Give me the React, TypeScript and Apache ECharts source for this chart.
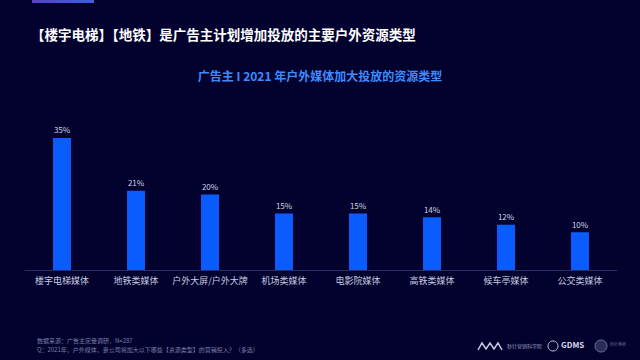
import React, { useEffect, useRef } from "react";
import * as echarts from "echarts";

const categories = ["楼宇电梯媒体", "地铁类媒体", "户外大屏/户外大牌", "机场类媒体", "电影院媒体", "高铁类媒体", "候车亭媒体", "公交类媒体"];
const values = [35, 21, 20, 15, 15, 14, 12, 10];
const titleText = "【楼宇电梯】【地铁】是广告主计划增加投放的主要户外资源类型";
const subtitleText = "广告主 I 2021 年户外媒体加大投放的资源类型";
const sourceText = "数据来源：广告主定量调研，N=287";
const questionText = "Q：2021年，户外媒体，贵公司将加大以下哪些【资源类型】的营销投入？（多选）";

const FONT = "'Noto Sans CJK SC', 'Noto Sans', sans-serif";

export default function App() {
  const ref = useRef<HTMLDivElement>(null);
  useEffect(() => {
    if (!ref.current) return;
    const chart = echarts.init(ref.current, null, { renderer: "svg" });
    chart.setOption({
      animation: false,
      backgroundColor: "#03022e",
      grid: { left: 25, right: 23, top: 119, bottom: 90 },
      xAxis: {
        type: "category",
        data: categories,
        axisLine: { lineStyle: { color: "#2a2d6a", width: 1 } },
        axisTick: { show: false },
        axisLabel: { color: "#c8cbe0", fontSize: 9, fontFamily: FONT, margin: 6, interval: 0 },
      },
      yAxis: {
        type: "value",
        min: 0,
        max: 40,
        show: false,
        splitLine: { show: false },
      },
      series: [
        {
          type: "bar",
          data: values,
          barWidth: 18,
          itemStyle: { color: "#0a5cff" },
          label: {
            show: true,
            position: "top",
            formatter: "{c}%",
            color: "#d0d3e8",
            fontSize: 8,
            fontFamily: FONT,
            distance: 4,
          },
        },
      ],
      graphic: [
        {
          type: "rect",
          shape: { x: 32, y: 0, width: 62, height: 3 },
          style: {
            fill: new echarts.graphic.LinearGradient(0, 0, 1, 0, [
              { offset: 0, color: "#5a3fc8" },
              { offset: 1, color: "#3b5ee0" },
            ]),
          },
        },
        {
          type: "text",
          left: 31,
          top: 27,
          style: { text: titleText, fill: "#ffffff", font: `bold 13.5px ${FONT}` },
        },
        {
          type: "text",
          left: "center",
          top: 69,
          style: { text: subtitleText, fill: "#3d8bff", font: `bold 12px ${FONT}` },
        },
        {
          type: "text",
          left: 37,
          top: 337,
          style: { text: sourceText, fill: "#7a7ea8", font: `6px ${FONT}` },
        },
        {
          type: "text",
          left: 37,
          top: 346,
          style: { text: questionText, fill: "#7a7ea8", font: `6px ${FONT}` },
        },
        {
          type: "polyline",
          shape: { points: [[478, 350], [482, 343], [486, 349], [490, 343], [494, 349], [498, 343], [502, 350]] },
          style: { stroke: "#c8cbe0", lineWidth: 1.5, fill: "none" },
        },
        {
          type: "text",
          left: 507,
          top: 343,
          style: { text: "秒针营销科学院", fill: "#9a9ec0", font: `5px ${FONT}` },
        },
        {
          type: "circle",
          shape: { cx: 553, cy: 346, r: 5 },
          style: { stroke: "#c8cbe0", lineWidth: 1, fill: "none" },
        },
        {
          type: "text",
          left: 561,
          top: 340,
          style: { text: "GDMS", fill: "#d8dbef", font: `bold 8px ${FONT}` },
        },
        {
          type: "circle",
          shape: { cx: 601, cy: 346, r: 6 },
          style: { stroke: "#6a6e98", lineWidth: 1, fill: "#2a2d5a" },
        },
        {
          type: "text",
          left: 610,
          top: 342,
          style: { text: "秒针系统", fill: "#6a6e98", font: `4px ${FONT}` },
        },
      ],
    });
    return () => chart.dispose();
  }, []);
  return <div ref={ref} style={{ width: 640, height: 360, position: "fixed", left: 0, top: 0 }} />;
}
